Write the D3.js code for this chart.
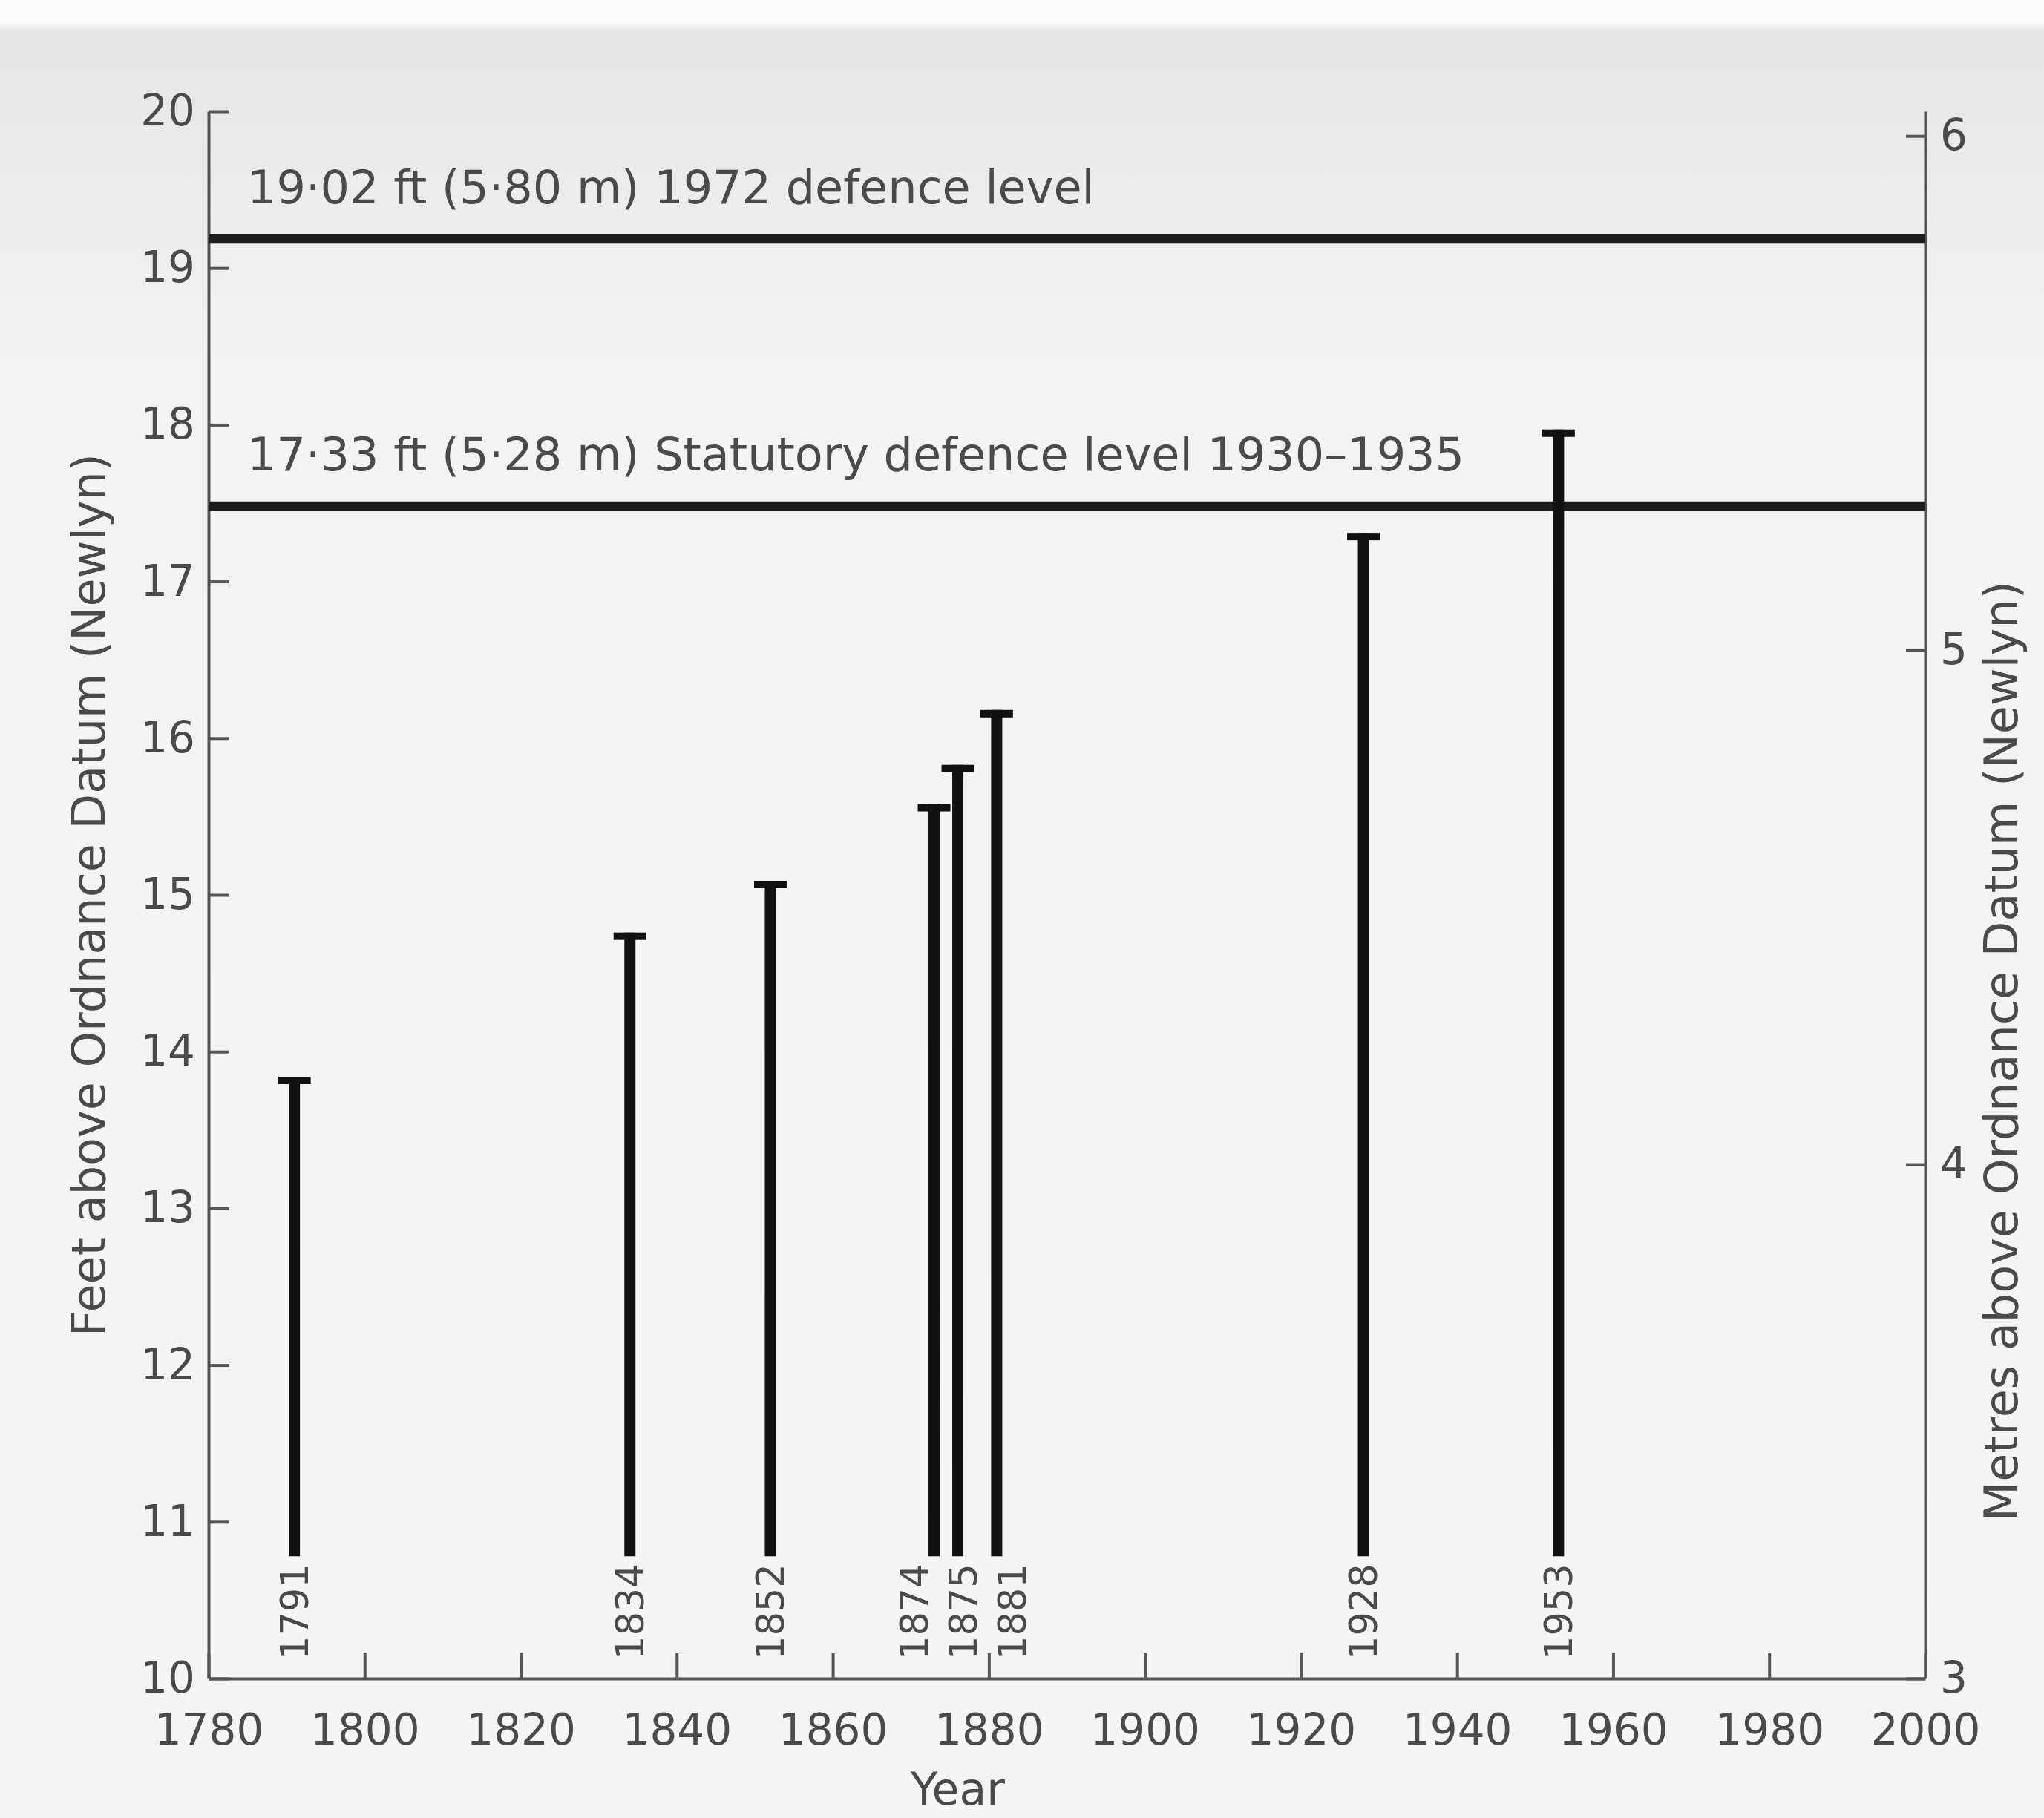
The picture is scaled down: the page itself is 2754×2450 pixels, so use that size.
<!DOCTYPE html>
<html>
<head>
<meta charset="utf-8">
<script src="https://cdn.jsdelivr.net/npm/d3@7"></script>
<style>
  body { margin: 0; background: #f4f4f4; }
  svg { display: block; }
  text { font-family: "DejaVu Sans", sans-serif; fill: #4a4a4a; }
</style>
</head>
<body>
<svg width="2754" height="2450"></svg>
<script>
// storm surge peaks, feet above OD (Newlyn)
const years = [1791, 1834, 1852, 1874, 1875, 1881, 1928, 1953];
const peakFeet = [13.84, 14.76, 15.09, 15.58, 15.83, 16.18, 17.31, 17.97];
const barBaseFeet = 10.78;

// defence levels, metres
const defenceMetres = [5.80, 5.28];
const defenceLabels = ["19·02 ft (5·80 m) 1972 defence level",
                       "17·33 ft (5·28 m) Statutory defence level 1930–1935"];

const yearTicks = [1780, 1800, 1820, 1840, 1860, 1880, 1900, 1920, 1940, 1960, 1980, 2000];
const feetTicks = [10, 11, 12, 13, 14, 15, 16, 17, 18, 19, 20];
const metreTicks = [3, 4, 5, 6];

const svg = d3.select("svg"),
      plotLeft = 281, plotRight = 2594, plotTop = 150, plotBottom = 2262;

const defs = svg.append("defs");
const grad = defs.append("linearGradient").attr("id", "paper")
  .attr("x1", 0).attr("y1", 0).attr("x2", 0).attr("y2", 1);
[[0, "#fbfbfb"], [0.012, "#fbfbfb"], [0.017, "#e6e6e6"], [0.08, "#eaeaea"], [0.2, "#f3f3f3"], [1, "#f5f5f5"]]
  .forEach(s => grad.append("stop").attr("offset", s[0]).attr("stop-color", s[1]));
svg.append("rect").attr("width", 2754).attr("height", 2450).attr("fill", "url(#paper)");

var x = d3.scaleLinear().domain([1780, 2000]).range([plotLeft, plotRight]);
var y = d3.scaleLinear().domain([10, 20]).range([plotBottom, plotTop]);
var yM = d3.scaleLinear().domain([3, 3 + 10 * 0.3048]).range([plotBottom, plotTop]);

// spread crowded positions apart
function dodge(xs, gap) {
  const p = xs.slice();
  for (let it = 0; it < 60; it++) {
    for (let i = 1; i < p.length; i++) {
      const d = p[i] - p[i - 1];
      if (d < gap) { const m = (gap - d) / 2; p[i - 1] -= m; p[i] += m; }
    }
  }
  return p;
}

const barX = dodge(years.map(x), 32);
const labelX = dodge(barX, 66);

// axes
function styleAxis(g) {
  g.select(".domain").attr("stroke", "#555").attr("stroke-width", 4);
  g.selectAll(".tick line").attr("stroke", "#555").attr("stroke-width", 4);
  g.selectAll(".tick text").attr("font-family", "DejaVu Sans").attr("font-size", 58).attr("fill", "#4a4a4a");
}

var x_axis = d3.axisBottom(x).tickValues(yearTicks).tickFormat(d3.format("d"))
               .tickSizeInner(-34).tickSizeOuter(0).tickPadding(48);
svg.append("g").attr("transform", "translate(0," + plotBottom + ")").call(x_axis).call(styleAxis);

var y_axis = d3.axisLeft(y).tickValues(feetTicks).tickFormat(d3.format("d"))
               .tickSizeInner(-28).tickSizeOuter(0).tickPadding(18);
svg.append("g").attr("transform", "translate(" + plotLeft + ",0)").call(y_axis).call(styleAxis);

var m_axis = d3.axisRight(yM).tickValues(metreTicks).tickFormat(d3.format("d"))
               .tickSizeInner(-26).tickSizeOuter(0).tickPadding(20);
svg.append("g").attr("transform", "translate(" + plotRight + ",0)").call(m_axis).call(styleAxis);

// defence levels
const lv = svg.append("g").selectAll("g").data(defenceMetres).enter().append("g");
lv.append("line")
  .attr("x1", x(1780)).attr("x2", x(2000))
  .attr("y1", d => yM(d)).attr("y2", d => yM(d))
  .attr("stroke", "#1c1c1c").attr("stroke-width", 13);
lv.append("text")
  .attr("x", x(1780) + 52).attr("y", d => yM(d) - 48)
  .attr("font-size", 62)
  .text((d, i) => defenceLabels[i]);

// surge bars
const bars = svg.append("g").selectAll("g").data(years).enter().append("g");
bars.append("line")
  .attr("x1", (d, i) => barX[i]).attr("x2", (d, i) => barX[i])
  .attr("y1", y(barBaseFeet)).attr("y2", (d, i) => y(peakFeet[i]))
  .attr("stroke", "#111").attr("stroke-width", 15);
bars.append("rect")
  .attr("x", (d, i) => barX[i] - 22).attr("y", (d, i) => y(peakFeet[i]))
  .attr("width", 44).attr("height", 10).attr("fill", "#111");
bars.append("text")
  .attr("transform", (d, i) => "translate(" + labelX[i] + "," + (y(barBaseFeet) + 10) + ") rotate(-90)")
  .attr("text-anchor", "end").attr("dy", "0.36em")
  .attr("font-size", 51).attr("fill", "#3e3e3e")
  .text(d => d);

// titles
svg.append("text").attr("x", x(1876)).attr("y", 2432)
  .attr("text-anchor", "middle").attr("font-size", 60).text("Year");
svg.append("text")
  .attr("transform", "translate(119," + y(15) + ") rotate(-90)")
  .attr("text-anchor", "middle").attr("dy", "0.36em").attr("font-size", 62)
  .text("Feet above Ordnance Datum (Newlyn)");
svg.append("text")
  .attr("transform", "translate(2696," + yM(4.22) + ") rotate(-90)")
  .attr("text-anchor", "middle").attr("dy", "0.36em").attr("font-size", 62)
  .text("Metres above Ordnance Datum (Newlyn)");
</script>
</body>
</html>
